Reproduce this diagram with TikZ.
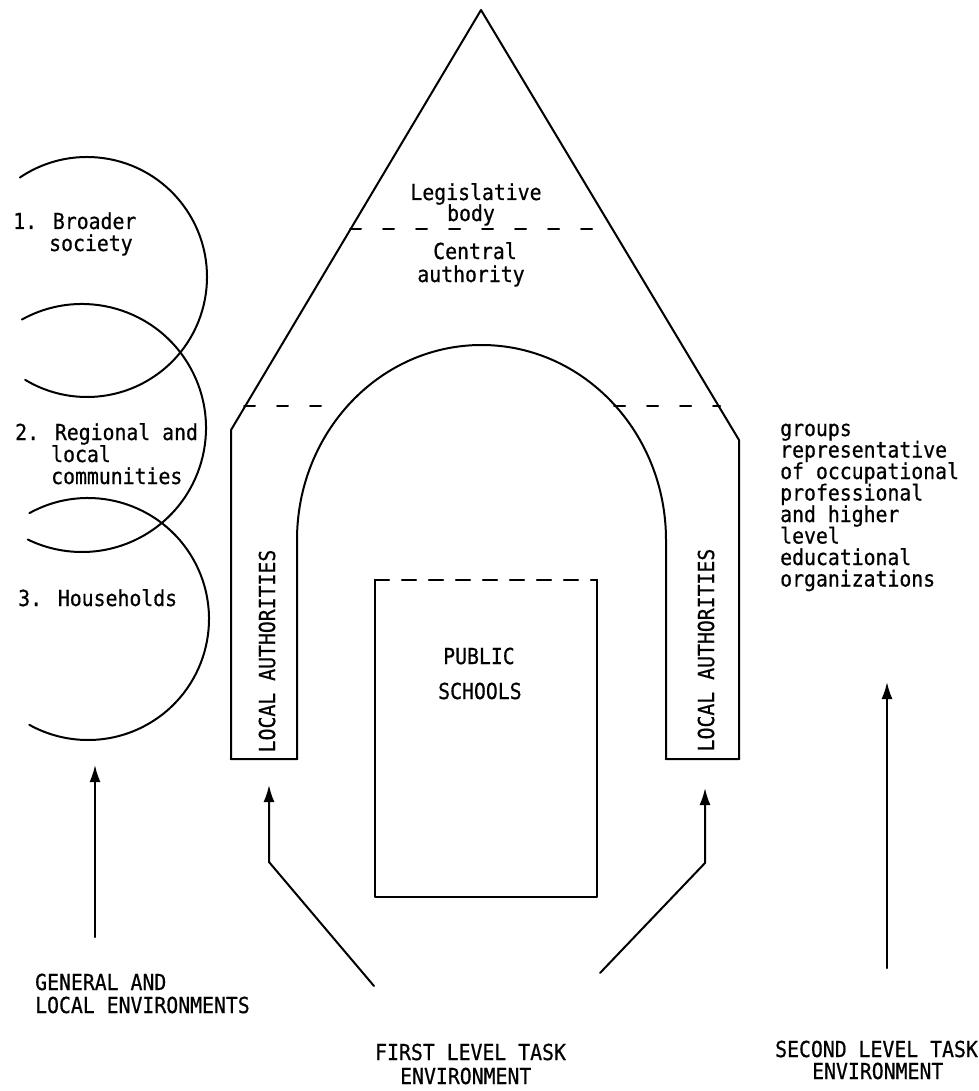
\documentclass[tikz,border=0pt]{standalone}
\usepackage{fontspec}
\newfontfamily\tw[FakeStretch=0.9, FakeBold=0.6]{DejaVu Sans Mono}
\usetikzlibrary{arrows.meta}
\begin{document}
\begin{tikzpicture}[x=1pt,y=1pt,
  ink/.style={line width=2pt, line cap=round, line join=round},
  dsh/.style={ink, dash pattern=on 11pt off 22pt},
  arr/.style={ink, -{Latex[length=17pt,width=11pt]}},
  lbl/.style={font=\tw\fontsize{22}{23}\selectfont, inner sep=0pt},
]
\useasboundingbox (0,0) rectangle (978,-1091);

% overlapping environment circles
\draw[ink] (87,-277) ++(124:120pt) arc[start angle=124, end angle=-121, radius=120pt];
\draw[ink] (82,-428) ++(119:124pt) arc[start angle=119, end angle=-116, radius=124pt];
\draw[ink] (88,-619) ++(119:121pt) arc[start angle=119, end angle=-119, radius=121pt];

% gable with the arch and the two local-authority legs
\coordinate (apex) at (481,-10);
\coordinate (lcorner) at (231,-430);
\coordinate (rcorner) at (739,-440);
\draw[ink] (apex) -- (lcorner) -- (231,-759) -- (297,-759) -- (297,-540)
  arc[start angle=180, end angle=0, x radius=184.5pt, y radius=195pt]
  -- (666,-759) -- (739,-759) -- (rcorner) -- cycle;
\draw[ink, line width=2.8pt] (231,-759) -- (297,-759);
\draw[ink, line width=2.8pt] (666,-759) -- (739,-759);

% level divisions
\draw[dsh] (350,-229) -- (612,-229);
\draw[dsh] (244,-406) -- (330,-406);
\draw[dsh] (614,-406) -- (720,-406);

% public schools box, open (dashed) on top
\draw[ink, line width=2.4pt, dash pattern=on 14pt off 13pt] (375,-580) -- (597,-580);
\draw[ink, line width=2.4pt] (597,-580) -- (597,-897) -- (375,-897) -- (375,-580);

% labels inside the gable
\node[lbl, anchor=base] (leg1) at (476,-200) {Legislative};
\node[lbl, anchor=base] (leg2) at (471,-221) {body};
\node[lbl, anchor=base] (cen1) at (475,-259) {Central};
\node[lbl, anchor=base] (cen2) at (471,-282) {authority};
\node[lbl, anchor=base west] (ps1) at (443,-664) {PUBLIC};
\node[lbl, anchor=base west] (ps2) at (438,-699) {SCHOOLS};
\node[lbl, rotate=90] (laL) at (267,-651) {LOCAL AUTHORITIES};
\node[lbl, rotate=90] (laR) at (706,-650) {LOCAL AUTHORITIES};

% labels of the circles
\node[lbl, anchor=base west] (c1a) at (13,-229) {1. Broader};
\node[lbl, anchor=base west] (c1b) at (49,-251) {society};
\node[lbl, anchor=base west] (c2a) at (15,-440) {2. Regional and};
\node[lbl, anchor=base west] (c2b) at (51,-462) {local};
\node[lbl, anchor=base west] (c2c) at (51,-484) {communities};
\node[lbl, anchor=base west] (c3a) at (18,-606) {3. Households};

% groups on the right
\foreach \t [count=\i] in {groups, representative, of occupational, professional,
  and higher, level, educational, organizations}
  \node[lbl, anchor=base west] (grp\i) at (780,{-436-(\i-1)*21.5}) {\t};

% environment captions
\node[lbl, anchor=base west] (gen1) at (35,-990) {GENERAL AND};
\node[lbl, anchor=base west] (gen2) at (35,-1013) {LOCAL ENVIRONMENTS};
\node[lbl, anchor=base west] (fst1) at (375,-1060) {FIRST LEVEL TASK};
\node[lbl, anchor=base west] (fst2) at (400,-1084) {ENVIRONMENT};
\node[lbl, anchor=base west] (snd1) at (775,-1057) {SECOND LEVEL TASK};
\node[lbl, anchor=base west] (snd2) at (812,-1079) {ENVIRONMENT};

% arrows
\coordinate (g0) at (95,-937);   \coordinate (g1) at (95,-765);
\coordinate (f0) at (374,-986);  \coordinate (fb) at (269,-862); \coordinate (f1) at (269,-785);
\coordinate (h0) at (600,-973);  \coordinate (hb) at (705,-863); \coordinate (h1) at (705,-788);
\coordinate (s0) at (887,-968);  \coordinate (s1) at (887,-682);
\draw[arr] (g0) -- (g1);
\draw[arr] (f0) -- (fb) -- (f1);
\draw[arr] (h0) -- (hb) -- (h1);
\draw[arr] (s0) -- (s1);
\end{tikzpicture}
\end{document}
